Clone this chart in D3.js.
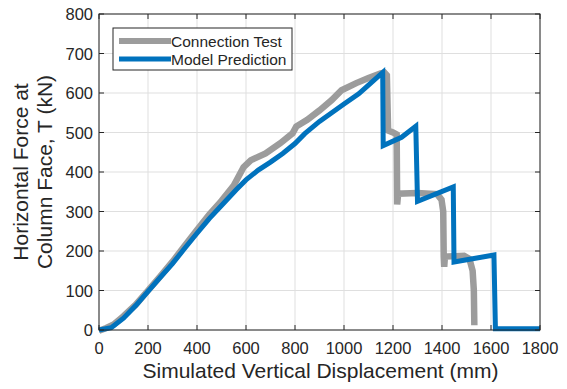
<!DOCTYPE html>
<html>
<head>
<meta charset="utf-8">
<script src="https://cdn.jsdelivr.net/npm/d3@7"></script>
<style>
  body { margin: 0; background: #fff; }
  text { font-family: "Liberation Sans", Arial, sans-serif; fill: #262626; }
</style>
</head>
<body>
<div id="chart"></div>
<script>
// Connection test vs model prediction
var testDisp  = [0, 30, 60, 100, 150, 200, 250, 300, 350, 400, 450, 500, 550, 590, 620, 680, 740, 790, 805, 850, 900, 950, 990, 1050, 1100, 1150, 1165, 1175, 1180, 1200, 1215, 1217, 1221, 1300, 1380, 1398, 1405, 1407, 1409, 1412, 1490, 1512, 1525, 1530, 1532];
var testForce = [-2, 5, 14, 35, 64, 100, 136, 173, 213, 253, 292, 327, 366, 412, 430, 447, 473, 498, 515, 532, 556, 582, 607, 625, 638, 650, 652, 645, 505, 500, 495, 318, 345, 347, 344, 330, 300, 186, 160, 186, 188, 180, 150, 100, 12];

var modelDisp  = [0, 50, 100, 150, 200, 250, 300, 350, 400, 450, 500, 560, 600, 650, 700, 750, 800, 840, 900, 950, 1000, 1060, 1100, 1158, 1160, 1235, 1293, 1300, 1446, 1449, 1612, 1618, 1800];
var modelForce = [0, 6, 30, 62, 98, 133, 168, 207, 245, 282, 315, 355, 380, 405, 425, 447, 472, 497, 528, 550, 572, 598, 620, 652, 467, 488, 516, 326, 362, 172, 190, 3, 3];

var xTicks = [0, 200, 400, 600, 800, 1000, 1200, 1400, 1600, 1800];
var yTicks = [0, 100, 200, 300, 400, 500, 600, 700, 800];
var seriesNames = ["Connection Test", "Model Prediction"];

var width = 567, height = 389;
var plotLeft = 99, plotRight = 540, plotTop = 14, plotBottom = 330;

var svg = d3.select("#chart")
    .append("svg")
    .attr("width", width)
    .attr("height", height);

var x = d3.scaleLinear().domain([0, 1800]).range([plotLeft, plotRight]);
var y = d3.scaleLinear().domain([0, 800]).range([plotBottom, plotTop]);

// Grid lines
xTicks.forEach(function (t) {
    svg.append("line")
        .attr("x1", x(t)).attr("x2", x(t))
        .attr("y1", plotTop).attr("y2", plotBottom)
        .attr("stroke", "#dfdfdf").attr("stroke-width", 1);
});
yTicks.forEach(function (t) {
    svg.append("line")
        .attr("x1", plotLeft).attr("x2", plotRight)
        .attr("y1", y(t)).attr("y2", y(t))
        .attr("stroke", "#dfdfdf").attr("stroke-width", 1);
});

// Data lines
var line = d3.line()
    .x(function (d) { return x(d[0]); })
    .y(function (d) { return y(d[1]); });

var testData = testDisp.map(function (d, i) { return [d, testForce[i]]; });
var modelData = modelDisp.map(function (d, i) { return [d, modelForce[i]]; });

svg.append("path")
    .datum(testData)
    .attr("d", line)
    .attr("fill", "none")
    .attr("stroke", "#9c9c9c")
    .attr("stroke-width", 6.5)
    .attr("stroke-linejoin", "miter")
    .attr("stroke-miterlimit", 6);

svg.append("path")
    .datum(modelData)
    .attr("d", line)
    .attr("fill", "none")
    .attr("stroke", "#0072bd")
    .attr("stroke-width", 5)
    .attr("stroke-linejoin", "miter");

// Axes (box with inward ticks on all sides)
var axisColor = "#262626";
var tickLen = 5;

svg.append("rect")
    .attr("x", plotLeft).attr("y", plotTop)
    .attr("width", plotRight - plotLeft).attr("height", plotBottom - plotTop)
    .attr("fill", "none")
    .attr("stroke", axisColor)
    .attr("stroke-width", 1);

xTicks.forEach(function (t) {
    svg.append("line")
        .attr("x1", x(t)).attr("x2", x(t))
        .attr("y1", plotBottom).attr("y2", plotBottom - tickLen)
        .attr("stroke", axisColor);
    svg.append("line")
        .attr("x1", x(t)).attr("x2", x(t))
        .attr("y1", plotTop).attr("y2", plotTop + tickLen)
        .attr("stroke", axisColor);
    svg.append("text")
        .attr("x", x(t))
        .attr("y", plotBottom + 24)
        .attr("text-anchor", "middle")
        .attr("font-size", "16.5px")
        .text(t);
});

yTicks.forEach(function (t) {
    svg.append("line")
        .attr("x1", plotLeft).attr("x2", plotLeft + tickLen)
        .attr("y1", y(t)).attr("y2", y(t))
        .attr("stroke", axisColor);
    svg.append("line")
        .attr("x1", plotRight).attr("x2", plotRight - tickLen)
        .attr("y1", y(t)).attr("y2", y(t))
        .attr("stroke", axisColor);
    svg.append("text")
        .attr("x", plotLeft - 6)
        .attr("y", y(t) + 6)
        .attr("text-anchor", "end")
        .attr("font-size", "16.5px")
        .text(t);
});

// Axis labels
svg.append("text")
    .attr("x", (plotLeft + plotRight) / 2 + 1)
    .attr("y", 378)
    .attr("text-anchor", "middle")
    .attr("font-size", "21px")
    .text("Simulated Vertical Displacement (mm)");

var yLabel = svg.append("text")
    .attr("transform", "translate(28," + ((plotTop + plotBottom) / 2) + ") rotate(-90)")
    .attr("text-anchor", "middle")
    .attr("font-size", "21px");
yLabel.append("tspan").attr("x", 0).attr("y", 0).text("Horizontal Force at");
yLabel.append("tspan").attr("x", 0).attr("y", 24).text("Column Face, T (kN)");

// Legend
var legend = svg.append("g");
legend.append("rect")
    .attr("x", 113).attr("y", 28)
    .attr("width", 179).attr("height", 42)
    .attr("fill", "#fff")
    .attr("stroke", axisColor)
    .attr("stroke-width", 1);

var legendColors = ["#9c9c9c", "#0072bd"];
var legendWidths = [6, 5];
seriesNames.forEach(function (name, i) {
    var ly = 41 + i * 18;
    legend.append("line")
        .attr("x1", 119).attr("x2", 171)
        .attr("y1", ly).attr("y2", ly)
        .attr("stroke", legendColors[i])
        .attr("stroke-width", legendWidths[i]);
    legend.append("text")
        .attr("x", 171)
        .attr("y", ly + 5.5)
        .attr("font-size", "15.5px")
        .text(name);
});
</script>
</body>
</html>
